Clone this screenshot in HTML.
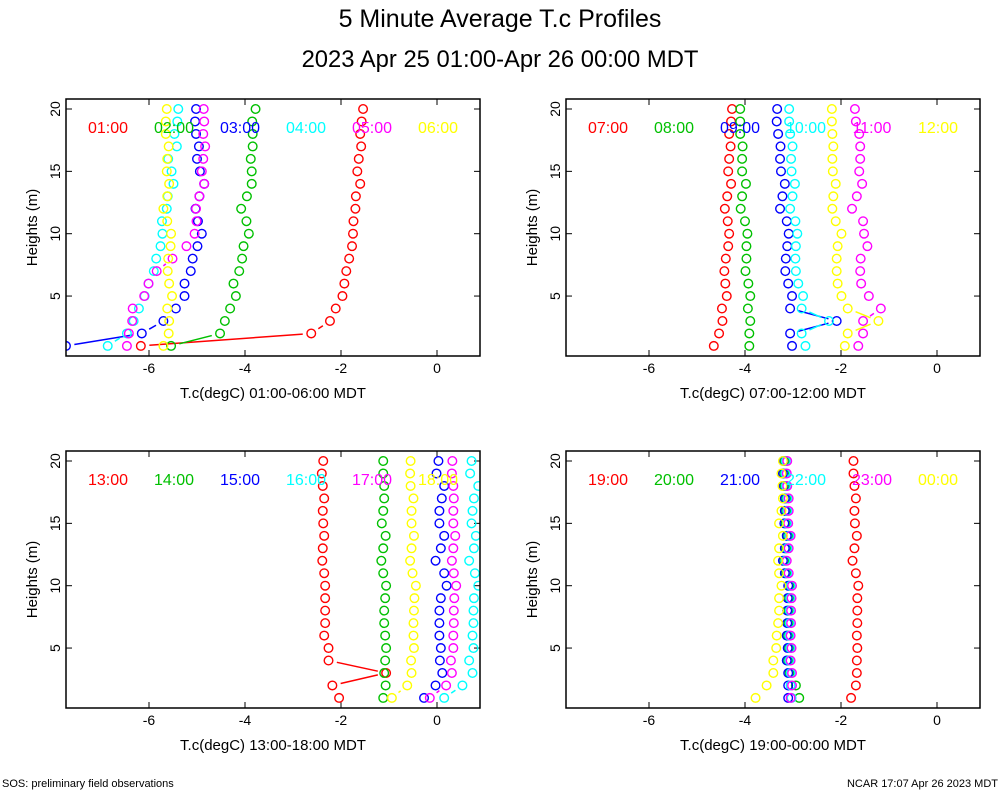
<!DOCTYPE html>
<html><head><meta charset="utf-8"><style>
body{margin:0;background:#fff;}
svg text{font-family:"Liberation Sans",sans-serif;}
</style></head><body>
<svg id="chart" width="1000" height="800" xmlns="http://www.w3.org/2000/svg">
<rect width="1000" height="800" fill="#fff"/>
<text x="500" y="27" font-size="25" text-anchor="middle">5 Minute Average T.c Profiles</text>
<text x="500" y="67" font-size="23.8" text-anchor="middle">2023 Apr 25 01:00-Apr 26 00:00 MDT</text>
<text x="2" y="787" font-size="11">SOS: preliminary field observations</text>
<text x="998" y="787" font-size="11" text-anchor="end">NCAR 17:07 Apr 26 2023 MDT</text>
</svg>
<script>
const heights = [20,19,18,17,16,15,14,13,12,11,10,9,8,7,6,5,4,3,2,1];
const xTicks = [-6,-4,-2,0];
const yTicks = [5,10,15,20];
const colors = ["#ff0000","#00c000","#0000ff","#00ffff","#ff00ff","#ffff00"];
const panelTimes = [
 ["01:00","02:00","03:00","04:00","05:00","06:00"],
 ["07:00","08:00","09:00","10:00","11:00","12:00"],
 ["13:00","14:00","15:00","16:00","17:00","18:00"],
 ["19:00","20:00","21:00","22:00","23:00","00:00"]];
const panelTitles = ["T.c(degC) 01:00-06:00 MDT","T.c(degC) 07:00-12:00 MDT","T.c(degC) 13:00-18:00 MDT","T.c(degC) 19:00-00:00 MDT"];
// panel 1
const p1s1=[-1.54,-1.57,-1.60,-1.58,-1.63,-1.66,-1.60,-1.69,-1.70,-1.74,-1.75,-1.77,-1.83,-1.89,-1.93,-1.97,-2.11,-2.23,-2.62,-6.17];
const p1s2=[-3.78,-3.85,-3.84,-3.84,-3.88,-3.86,-3.86,-3.96,-4.08,-3.97,-3.92,-4.03,-4.06,-4.12,-4.24,-4.19,-4.31,-4.42,-4.52,-5.54];
const p1s3=[-5.02,-5.04,-5.02,-4.96,-5.00,-4.94,-4.85,-4.95,-5.03,-4.98,-4.90,-4.99,-5.09,-5.13,-5.26,-5.26,-5.44,-5.70,-6.15,-7.73];
const p1s4=[-5.39,-5.41,-5.47,-5.42,-5.60,-5.53,-5.49,-5.61,-5.63,-5.73,-5.72,-5.76,-5.85,-5.90,-6.01,-6.09,-6.21,-6.32,-6.46,-6.86];
const p1s5=[-4.86,-4.85,-4.87,-4.83,-4.87,-4.90,-4.85,-4.95,-5.02,-5.01,-5.05,-5.22,-5.51,-5.84,-6.01,-6.10,-6.34,-6.35,-6.42,-6.46];
const p1s6=[-5.63,-5.65,-5.65,-5.59,-5.62,-5.63,-5.58,-5.62,-5.70,-5.62,-5.54,-5.55,-5.60,-5.61,-5.58,-5.52,-5.62,-5.58,-5.59,-5.70];
// panel 2
const p2s1=[-4.27,-4.29,-4.33,-4.30,-4.33,-4.35,-4.29,-4.37,-4.42,-4.36,-4.33,-4.35,-4.40,-4.43,-4.41,-4.38,-4.48,-4.47,-4.54,-4.65];
const p2s2=[-4.10,-4.10,-4.10,-4.05,-4.06,-4.06,-3.98,-4.06,-4.09,-4.00,-3.95,-3.97,-3.97,-3.99,-3.93,-3.89,-3.94,-3.89,-3.91,-3.91];
const p2s3=[-3.33,-3.34,-3.31,-3.26,-3.27,-3.25,-3.17,-3.22,-3.27,-3.13,-3.09,-3.12,-3.15,-3.16,-3.10,-3.02,-3.06,-2.09,-3.06,-3.02];
const p2s4=[-3.08,-3.08,-3.06,-3.01,-3.04,-3.03,-2.96,-3.01,-3.06,-2.95,-2.91,-2.94,-2.95,-2.94,-2.89,-2.79,-2.82,-2.25,-2.82,-2.74];
const p2s5=[-1.71,-1.69,-1.62,-1.60,-1.60,-1.62,-1.56,-1.67,-1.77,-1.54,-1.52,-1.45,-1.59,-1.60,-1.58,-1.42,-1.17,-1.54,-1.54,-1.64];
const p2s6=[-2.19,-2.19,-2.18,-2.16,-2.18,-2.17,-2.11,-2.16,-2.18,-2.11,-1.99,-2.07,-2.09,-2.09,-2.07,-1.99,-1.86,-1.22,-1.86,-1.92];
// panel 3
const p3s1=[-2.37,-2.40,-2.38,-2.35,-2.38,-2.37,-2.35,-2.38,-2.39,-2.35,-2.33,-2.33,-2.33,-2.33,-2.35,-2.26,-2.26,-1.06,-2.18,-2.04];
const p3s2=[-1.12,-1.12,-1.10,-1.10,-1.12,-1.15,-1.07,-1.12,-1.16,-1.12,-1.06,-1.08,-1.10,-1.10,-1.08,-1.06,-1.08,-1.10,-1.07,-1.12];
const p3s3=[0.03,-0.01,0.15,0.10,0.05,0.05,0.15,0.08,-0.03,0.15,0.20,0.08,0.05,0.05,0.05,0.08,0.06,0.11,-0.03,-0.27];
const p3s4=[0.72,0.69,0.86,0.77,0.74,0.72,0.81,0.77,0.67,0.79,0.86,0.77,0.76,0.76,0.74,0.76,0.67,0.74,0.53,0.15];
const p3s5=[0.32,0.31,0.34,0.35,0.34,0.34,0.38,0.34,0.31,0.35,0.40,0.36,0.35,0.35,0.34,0.34,0.29,0.31,0.19,-0.15];
const p3s6=[-0.55,-0.56,-0.55,-0.49,-0.53,-0.53,-0.48,-0.53,-0.56,-0.51,-0.44,-0.47,-0.48,-0.49,-0.49,-0.48,-0.54,-0.53,-0.62,-0.94];
// panel 4
const p4s1=[-1.74,-1.74,-1.72,-1.69,-1.72,-1.71,-1.67,-1.72,-1.76,-1.69,-1.64,-1.66,-1.66,-1.66,-1.67,-1.66,-1.67,-1.67,-1.69,-1.79];
const p4s2=[-3.17,-3.18,-3.17,-3.14,-3.14,-3.15,-3.10,-3.14,-3.18,-3.14,-3.07,-3.08,-3.09,-3.09,-3.10,-3.08,-3.10,-3.07,-2.94,-2.87];
const p4s3=[-3.20,-3.21,-3.20,-3.17,-3.17,-3.18,-3.13,-3.17,-3.21,-3.17,-3.10,-3.11,-3.12,-3.12,-3.13,-3.11,-3.13,-3.10,-3.10,-3.10];
const p4s4=[-3.15,-3.16,-3.15,-3.12,-3.12,-3.13,-3.08,-3.12,-3.16,-3.12,-3.05,-3.06,-3.07,-3.07,-3.08,-3.06,-3.08,-3.05,-3.05,-3.03];
const p4s5=[-3.12,-3.13,-3.12,-3.09,-3.09,-3.10,-3.05,-3.09,-3.13,-3.09,-3.02,-3.03,-3.04,-3.04,-3.05,-3.03,-3.05,-3.02,-3.02,-3.05];
const p4s6=[-3.21,-3.24,-3.22,-3.21,-3.24,-3.29,-3.21,-3.29,-3.31,-3.29,-3.24,-3.29,-3.29,-3.31,-3.34,-3.35,-3.41,-3.41,-3.55,-3.78];

const panelSeries=[[p1s1,p1s2,p1s3,p1s4,p1s5,p1s6],[p2s1,p2s2,p2s3,p2s4,p2s5,p2s6],[p3s1,p3s2,p3s3,p3s4,p3s5,p3s6],[p4s1,p4s2,p4s3,p4s4,p4s5,p4s6]];

const NS="http://www.w3.org/2000/svg";
const svg=document.getElementById('chart');
function mk(tag,attrs,parent){const e=document.createElementNS(NS,tag);for(const k in attrs)e.setAttribute(k,attrs[k]);(parent||svg).appendChild(e);return e;}

panelSeries.forEach((series,pi)=>{
  const ox=(pi%2)*500, oy=Math.floor(pi/2)*352;
  const L=66+ox,R=480+ox,T=99+oy,B=356+oy;
  const xs=v=>L+83+(v+6)*48;
  const ys=h=>T+10+(20-h)*12.47;
  const g=mk('g',{});
  
  
  const cid='clip'+pi;
  const cp=mk('clipPath',{id:cid},g);mk('rect',{x:L,y:T,width:R-L,height:B-T},cp);
  xTicks.forEach(t=>{
    const x=xs(t);
    mk('line',{x1:x,y1:B,x2:x,y2:B-6,stroke:'#000'},g);
    mk('line',{x1:x,y1:T,x2:x,y2:T+6,stroke:'#000'},g);
    const tx=mk('text',{x:x,y:B+17,'font-size':14,'text-anchor':'middle'},g);
    tx.textContent=String(t);
    
    
  });
  yTicks.forEach(t=>{
    const y=ys(t);
    mk('line',{x1:L,y1:y,x2:L+6,y2:y,stroke:'#000'},g);
    mk('line',{x1:R,y1:y,x2:R-6,y2:y,stroke:'#000'},g);
    const tx=mk('text',{x:L-6,y:y,'font-size':14,'text-anchor':'middle',transform:`rotate(-90 ${L-6} ${y})`},g);
    tx.textContent=String(t);
    
    
  });
  const yt=mk('text',{x:ox+37,y:(T+B)/2,'font-size':15,'text-anchor':'middle',transform:`rotate(-90 ${ox+37} ${(T+B)/2})`},g);
  yt.textContent='Heights (m)';
  
  
  const xt=mk('text',{x:(L+R)/2,y:B+42,'font-size':15,'text-anchor':'middle'},g);
  xt.textContent=panelTitles[pi];
  
  
  const data=mk('g',{'clip-path':`url(#${cid})`},g);
  series.forEach((vals,si)=>{
    const col=colors[si];
    const sg=mk('g',{},data);
    
    
    for(let i=0;i<vals.length-1;i++){
      const x1=xs(vals[i]),y1=ys(heights[i]),x2=xs(vals[i+1]),y2=ys(heights[i+1]);
      const d=Math.hypot(x2-x1,y2-y1),gap=8.5;
      if(d>2*gap+2){
        const ux=(x2-x1)/d,uy=(y2-y1)/d;
        mk('line',{x1:x1+ux*gap,y1:y1+uy*gap,x2:x2-ux*gap,y2:y2-uy*gap,stroke:col,'stroke-width':1.5},sg);
      }
    }
    vals.forEach((v,i)=>{
      const c=mk('circle',{cx:xs(v),cy:ys(heights[i]),r:4.3,fill:'none',stroke:col,'stroke-width':1.4},sg);
      
      
    });
  });
  panelTimes[pi].forEach((lab,si)=>{
    const t=mk('text',{x:ox+108+si*66,y:T+34,'font-size':16,'text-anchor':'middle',fill:colors[si]},g);
    t.textContent=lab;
    
    
  });
  const fr=mk('rect',{x:L,y:T,width:R-L,height:B-T,fill:'none',stroke:'#000','stroke-width':1.5},g);
  
  
});
</script>
</body></html>
